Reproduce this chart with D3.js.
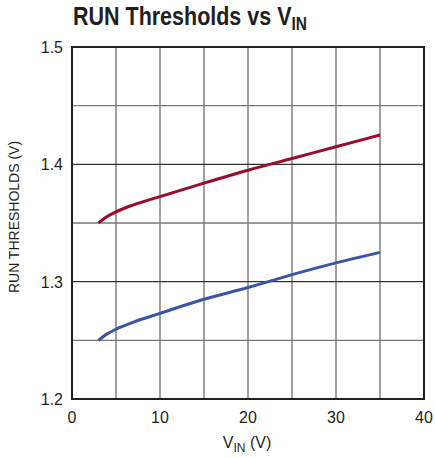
<!DOCTYPE html>
<html>
<head>
<meta charset="utf-8">
<script src="https://cdn.jsdelivr.net/npm/d3@7"></script>
<style>
  body { margin: 0; background: #fff; }
  text { font-family: "Liberation Sans", Arial, sans-serif; fill: #231f20; }
</style>
</head>
<body>
<div id="container"></div>
<script>
const width = 435, height = 458;

// data
const vin = [3, 4, 5, 7, 10, 15, 20, 25, 30, 35];
const runRising = [1.350, 1.3555, 1.3595, 1.3655, 1.3725, 1.384, 1.395, 1.405, 1.415, 1.425];
const runFalling = [1.250, 1.2555, 1.2595, 1.2655, 1.2730, 1.285, 1.295, 1.306, 1.316, 1.325];
const xTicks = [0, 10, 20, 30, 40];
const yTicks = [1.2, 1.3, 1.4, 1.5];
const xGrid = [5, 10, 15, 20, 25, 30, 35];
const yGrid = [1.25, 1.3, 1.35, 1.4, 1.45];

const RED = "#9b0b2f", BLUE = "#3a55a4";

const margin = {left: 72, right: 11, top: 47, bottom: 59};

const svg = d3.select("#container")
  .append("svg")
  .attr("width", width)
  .attr("height", height);

const x = d3.scaleLinear().domain([0, 40]).range([margin.left, width - margin.right]);
const y = d3.scaleLinear().domain([1.2, 1.5]).range([height - margin.bottom, margin.top]);

// grid
svg.append("g")
  .selectAll("line")
  .data(xGrid)
  .join("line")
  .attr("x1", d => x(d)).attr("x2", d => x(d))
  .attr("y1", y(1.2)).attr("y2", y(1.5))
  .attr("stroke", "#6d6d6d")
  .attr("stroke-width", 1.3);

svg.append("g")
  .selectAll("line")
  .data(yGrid)
  .join("line")
  .attr("y1", d => y(d)).attr("y2", d => y(d))
  .attr("x1", x(0)).attr("x2", x(40))
  .attr("stroke", d => yTicks.includes(d) ? "#333" : "#777")
  .attr("stroke-width", 1.3);

// frame
svg.append("rect")
  .attr("x", x(0)).attr("y", y(1.5))
  .attr("width", x(40) - x(0)).attr("height", y(1.2) - y(1.5))
  .attr("fill", "none")
  .attr("stroke", "#231f20")
  .attr("stroke-width", 2);

// curves
const line = d3.line()
  .x((d, i) => x(vin[i]))
  .y(d => y(d))
  .curve(d3.curveMonotoneX);

[[runRising, RED], [runFalling, BLUE]].forEach(([vals, c]) => {
  svg.append("path")
    .datum(vals)
    .attr("d", line)
    .attr("fill", "none")
    .attr("stroke", c)
    .attr("stroke-width", 3);
});

// tick labels
svg.append("g")
  .selectAll("text")
  .data(xTicks)
  .join("text")
  .attr("x", d => x(d))
  .attr("y", 423)
  .attr("text-anchor", "middle")
  .attr("font-size", 16)
  .text(d => d);

svg.append("g")
  .selectAll("text")
  .data(yTicks)
  .join("text")
  .attr("x", 63)
  .attr("y", d => y(d) + 6)
  .attr("text-anchor", "end")
  .attr("font-size", 16)
  .text(d => d.toFixed(1));

// axis titles
const xt = svg.append("text")
  .attr("x", 247)
  .attr("y", 448)
  .attr("text-anchor", "middle")
  .attr("font-size", 16);
xt.append("tspan").text("V");
xt.append("tspan").attr("font-size", 12).attr("dy", 4).text("IN");
xt.append("tspan").attr("dy", -4).text(" (V)");

svg.append("text")
  .attr("transform", "translate(19,217) rotate(-90)")
  .attr("text-anchor", "middle")
  .attr("font-size", 14)
  .text("RUN THRESHOLDS (V)");

// title (condensed bold look)
const title = svg.append("text")
  .attr("transform", "translate(73,25) scale(0.86,1)")
  .attr("font-weight", "bold")
  .attr("font-size", 25);
title.append("tspan").text("RUN Thresholds vs V");
title.append("tspan").attr("font-size", 18).attr("dy", 5).text("IN");
</script>
</body>
</html>
